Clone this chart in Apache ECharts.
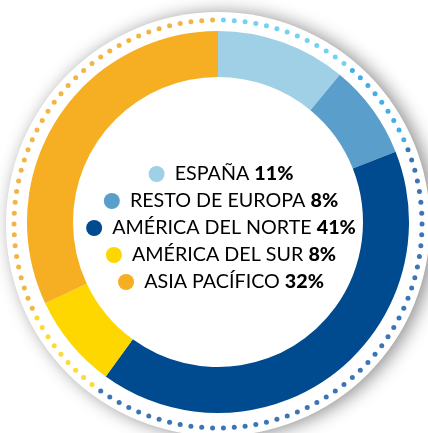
<!DOCTYPE html>
<html>
<head>
<meta charset="utf-8">
<script src="https://cdn.jsdelivr.net/npm/echarts@6/dist/echarts.min.js"></script>
<style>
  html, body { margin: 0; padding: 0; background: #fff; }
  #chart { width: 428px; height: 433px; }
</style>
</head>
<body>
<div id="chart"></div>
<script>
// reparto por regiones (%)
var regions = ['ESPAÑA', 'RESTO DE EUROPA', 'AMÉRICA DEL NORTE', 'AMÉRICA DEL SUR', 'ASIA PACÍFICO'];
var shares = [11, 8, 41, 8, 32];
var sliceColors = ['#9fd0e6', '#5a9fcb', '#004a8f', '#fed700', '#f6ae22'];
var dotColors = ['#4cc8f0', '#1298e4', '#0a52a2', '#fad200', '#eea218'];

var chart = echarts.init(document.getElementById('chart'), null, { renderer: 'canvas' });

// dotted ring: one dot every few degrees, coloured by the slice it sits over
var total = shares.reduce(function (a, b) { return a + b; }, 0);
var dotCount = 118;
var dots = [];
for (var i = 0; i < dotCount; i++) {
  var pos = (i + 0.5) * total / dotCount;
  var acc = 0, k = 0;
  for (k = 0; k < shares.length; k++) {
    acc += shares[k];
    if (pos < acc) break;
  }
  dots.push({ value: [1, pos], itemStyle: { color: dotColors[Math.min(k, shares.length - 1)] } });
}

var rich = {
  n: { fontFamily: 'Lato', fontSize: 19.7, color: '#1b1b1b', align: 'center', lineHeight: 24 },
  b: { fontFamily: 'Lato', fontSize: 19.7, fontWeight: 900, color: '#111', align: 'center', lineHeight: 24 }
};
regions.forEach(function (r, i) {
  rich['m' + i] = { width: 16, height: 16, borderRadius: 8, backgroundColor: sliceColors[i], align: 'center' };
});

var legendTexts = regions.map(function (r, i) {
  return {
    type: 'text',
    x: 221,
    y: 174 + i * 27,
    z: 100,
    silent: true,
    style: {
      text: '{m' + i + '|}{n|  ' + r + ' }{b|' + shares[i] + '%}',
      rich: rich,
      align: 'center',
      verticalAlign: 'middle'
    }
  };
});

var option = {
  backgroundColor: '#fff',
  animation: false,
  polar: { center: [218, 224], radius: 204 },
  angleAxis: { type: 'value', min: 0, max: total, startAngle: 90, clockwise: true, show: false },
  radiusAxis: { type: 'value', min: 0, max: 1, show: false },
  graphic: { elements: legendTexts },
  series: [
    {
      // white plate with soft shadow
      type: 'pie',
      silent: true,
      center: [218, 224],
      radius: [0, 212],
      label: { show: false },
      z: 1,
      itemStyle: {
        color: '#fff',
        shadowBlur: 18,
        shadowColor: 'rgba(0,0,0,0.45)',
        shadowOffsetX: 5,
        shadowOffsetY: 1
      },
      data: [1]
    },
    {
      type: 'pie',
      silent: true,
      center: [218, 222],
      radius: [145, 191],
      startAngle: 90,
      clockwise: true,
      label: { show: false },
      labelLine: { show: false },
      z: 2,
      data: regions.map(function (r, i) {
        return { name: r, value: shares[i], itemStyle: { color: sliceColors[i] } };
      })
    },
    {
      type: 'scatter',
      coordinateSystem: 'polar',
      silent: true,
      symbol: 'circle',
      symbolSize: 5,
      z: 3,
      data: dots
    }
  ]
};

chart.setOption(option);
</script>
</body>
</html>
